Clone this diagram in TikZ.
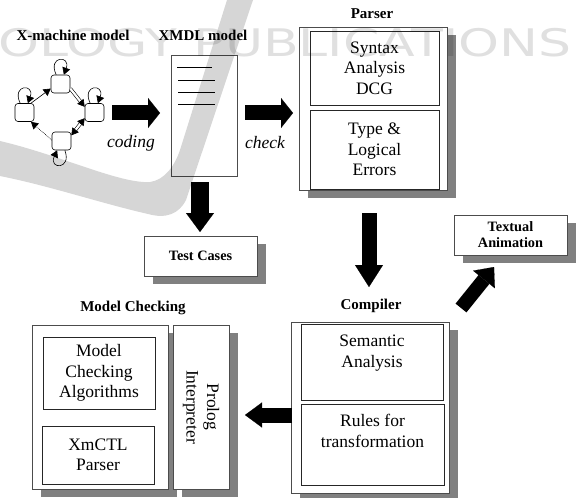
\documentclass[tikz,border=0pt]{standalone}
\usepackage{fontspec}
\setmainfont{Liberation Serif}
\newfontfamily\wmfont{DejaVu Sans}
\usetikzlibrary{arrows.meta,shadows,calc}
\begin{document}
\begin{tikzpicture}[x=1pt,y=-1pt,
  ttl/.style={font=\fontsize{15}{17}\selectfont\bfseries, inner sep=0pt},
  ttlsm/.style={font=\fontsize{14.3}{16}\selectfont\bfseries, align=center, inner sep=0pt},
  body/.style={font=\fontsize{17.5}{20.5}\selectfont, align=center, inner sep=0pt},
  lbl/.style={font=\fontsize{17.5}{20}\selectfont\itshape, inner sep=0pt},
  bx/.style={draw=black!70, line width=0.7pt, fill=white, inner sep=0pt},
  inbx/.style={draw=black!85, line width=0.9pt, inner sep=0pt},
  shd/.style={drop shadow={shadow xshift=9pt, shadow yshift=-8pt, fill=black!50, opacity=1}},
  fat/.style n args={3}{line width=#1, -{Triangle[width=#2,length=#3,line width=0.1pt]}},
  st/.style={draw, rounded corners=3pt, minimum width=19pt, minimum height=18pt, inner sep=0pt, line width=0.6pt, fill=white},
  sarr/.style={-{Triangle[length=7pt,width=8pt]}, line width=0.6pt},
]
\useasboundingbox (0,0) rectangle (577,497);

% ---------- titles ----------
\node[ttl] (txm) at (73,35) {X-machine model};
\node[ttl] (txmdl) at (203,35) {XMDL model};
\node[ttl] (tparser) at (372,14) {Parser};
\node[ttl] (tcomp) at (371,306) {Compiler};
\node[ttl] (tmc) at (133,308) {Model Checking};

% ---------- X-machine state diagram ----------
\node[st] (s1) at (60.5,84) {};
\node[st] (s2) at (24.5,112.5) {};
\node[st] (s3) at (94.5,112.5) {};
\node[st] (s4) at (61.5,141) {};
\draw[sarr] (s2.55) -- (s1.205);
\draw[sarr, double, double distance=2.2pt] (s1.-25) -- (s3.150);
\draw[{Triangle[length=7pt,width=8pt]}-{Triangle[length=7pt,width=8pt]}, line width=0.6pt, double, double distance=2.2pt] (s3.-150) -- (s4.30);
\draw[sarr, densely dotted] (s4.175) -- (s2.-55);
\path (s1) edge[sarr, out=115, in=70, looseness=7] (s1);
\path (s2) edge[sarr, out=115, in=70, looseness=7] (s2);
\path (s3) edge[sarr, out=115, in=70, looseness=7] (s3);
\path (s4) edge[sarr, out=-70, in=-115, looseness=7] (s4);

% ---------- XMDL document ----------
\node[bx, minimum width=66pt, minimum height=121pt] (xmdl) at (204,115.5) {};
\draw[line width=0.8pt] (177,67) -- (212,67);
\draw[line width=0.8pt] (178,80) -- (215,80);
\draw[line width=0.8pt] (178,92) -- (215,92);
\draw[line width=0.8pt] (178,104) -- (215,104);

% ---------- Parser ----------
\node[bx, shd, minimum width=148pt, minimum height=163pt] (parser) at (373,108.5) {};
\node[inbx, body, minimum width=129pt, minimum height=74pt] (syn) at (374.5,68) {Syntax\\Analysis\\DCG};
\node[inbx, body, minimum width=129pt, minimum height=79pt] (typ) at (374.5,149.5) {Type \&\\Logical\\Errors};

% ---------- Test cases / Animation ----------
\node[bx, shd, ttlsm, minimum width=113pt, minimum height=40pt] (test) at (200.5,256) {Test Cases};
\node[bx, shd, ttlsm, minimum width=113pt, minimum height=40pt] (anim) at (510.5,235) {Textual\\Animation};

% ---------- Compiler ----------
\node[bx, shd, minimum width=158pt, minimum height=171pt] (comp) at (370,407.5) {};
\node[inbx, minimum width=142pt, minimum height=76pt] (sem) at (372,362) {};
\node[body, anchor=north] (semt) at (372,335) {Semantic\\Analysis};
\node[inbx, minimum width=143pt, minimum height=81pt] (rules) at (372.5,444.5) {};
\node[body, anchor=north] (rulest) at (372.5,414) {Rules for\\transformation};

% ---------- Model checking ----------
\node[bx, shd, minimum width=136pt, minimum height=164pt] (mc) at (100,407) {};
\node[inbx, body, minimum width=112pt, minimum height=72pt] (mca) at (99,373) {Model\\Checking\\Algorithms};
\node[inbx, body, minimum width=112pt, minimum height=58pt] (xmctl) at (98,455) {XmCTL\\Parser};
\node[bx, shd, minimum width=56pt, minimum height=164pt] (prolog) at (201,407) {};
\node[body, rotate=-90] (prologt) at (201,407) {Prolog\\Interpreter};

% ---------- block arrows ----------
\coordinate (c1s) at (112,113); \coordinate (c1e) at (160,113);
\coordinate (c2s) at (245,113); \coordinate (c2e) at (293,113);
\coordinate (d1s) at (200,182); \coordinate (d1e) at (200,232);
\coordinate (d2s) at (369,213); \coordinate (d2e) at (369,287);
\coordinate (l1s) at (292,415); \coordinate (l1e) at (245,415);
\coordinate (g1s) at (461,308); \coordinate (g1e) at (494,267);
\draw[fat={15pt}{30pt}{12pt}] (c1s) -- (c1e);
\draw[fat={15pt}{30pt}{12pt}] (c2s) -- (c2e);
\draw[fat={18pt}{28pt}{19pt}] (d1s) -- (d1e);
\draw[fat={15pt}{28pt}{22pt}] (d2s) -- (d2e);
\draw[fat={15pt}{25pt}{17pt}] (l1s) -- (l1e);
\draw[fat={14pt}{28pt}{16pt}] (g1s) -- (g1e);
\node[lbl] (lcoding) at (131,143) {coding};
\node[lbl] (lcheck) at (265,143) {check};

% ---------- watermark ----------
\fill[black, opacity=0.16] (0,141) .. controls (60,155) and (120,184) .. (150,182)
  .. controls (165,180) and (175,165) .. (180,150) -- (227,0) -- (253,0) -- (186,200)
  .. controls (179,214) and (166,219) .. (148,214)
  .. controls (100,203) and (50,186) .. (0,176) -- cycle;
\node[font=\wmfont\fontsize{38}{38}\selectfont, text=black, opacity=0.12, xscale=1.37, inner sep=0pt] (wm) at (285,43) {OLOGY PUBLICATIONS};
\end{tikzpicture}
\end{document}
